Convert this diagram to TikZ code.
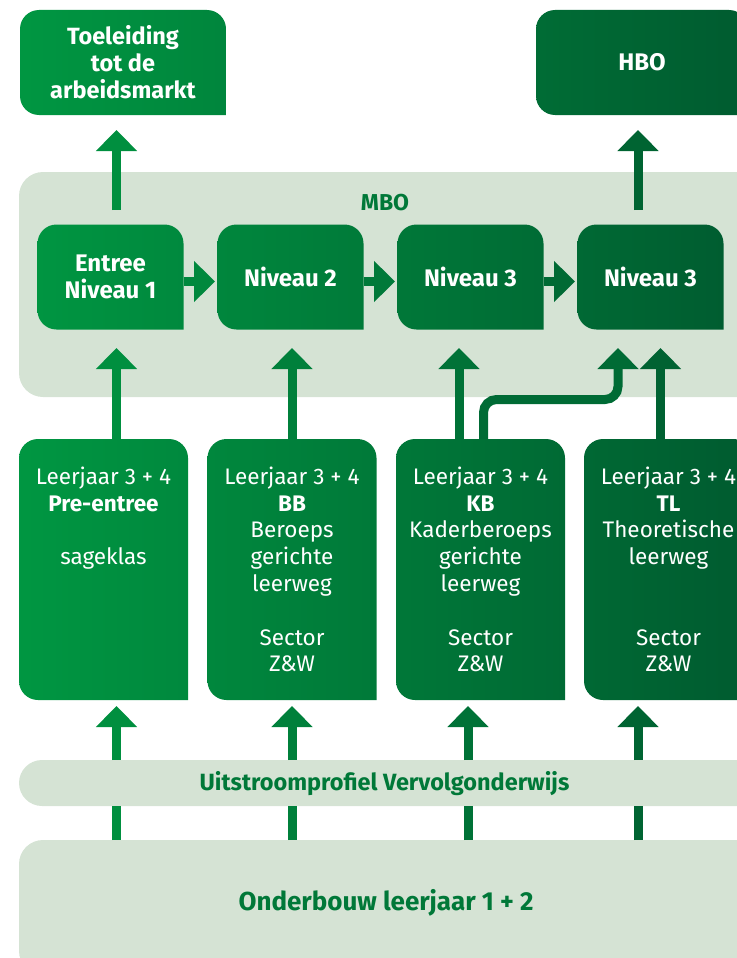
\documentclass[tikz,border=0pt]{standalone}
\usepackage{fontspec}
\setmainfont{Fira Sans}
\usetikzlibrary{positioning,calc,arrows.meta}
\pgfdeclarelayer{panels}
\pgfdeclarelayer{tabs}
\pgfsetlayers{panels,tabs,main}

\definecolor{gL}{RGB}{0,152,66}
\definecolor{gR}{RGB}{0,92,48}
\definecolor{panel}{RGB}{213,227,212}
\definecolor{ptext}{RGB}{0,120,56}

% green of the left-to-right fade at x (in pt)
\newcommand{\mixgreen}[2]{\pgfmathsetmacro\gp{100-(#2)/7.36}\colorlet{#1}{gL!\gp!gR}}
% tab shape: three round corners, bottom right square
\newcommand{\tabfill}[1]{%
  \path (#1.west); \pgfgetlastxy{\tx}{\ty}\mixgreen{tabL}{\tx}%
  \path (#1.east); \pgfgetlastxy{\tx}{\ty}\mixgreen{tabR}{\tx}%
  \shade[left color=tabL,right color=tabR] (#1.south east)
    -- ([xshift=19pt]#1.south west) arc[start angle=270,end angle=180,radius=19pt]
    -- ([yshift=-19pt]#1.north west) arc[start angle=180,end angle=90,radius=19pt]
    -- ([xshift=-19pt]#1.north east) arc[start angle=90,end angle=0,radius=19pt]
    -- cycle;}

\begin{document}
\begin{tikzpicture}[x=1pt,y=1pt,
    tab/.style={minimum width=146pt,minimum height=105pt,inner sep=0pt,outer sep=0pt,
      text=white,align=center,font=\bfseries\fontsize{23.5}{27}\selectfont},
    year box/.style={tab,minimum width=169pt,minimum height=261pt,
      font=\fontsize{22.5}{26.8}\selectfont},
    band/.style={fill=panel,rounded corners=24pt,inner sep=0pt,outer sep=0pt},
    band text/.style={text=ptext,font=\bfseries\fontsize{23.5}{27}\selectfont},
    varr/.style={line width=9pt,-{Triangle[width=40pt,length=21pt]}}
  ]
  \useasboundingbox (0,0) rectangle (736,-958);

  % light bands
  \begin{pgfonlayer}{panels}
    \node[band,minimum width=781pt,minimum height=225pt] (mbo) at (409.5,-284.5) {};
    \node[band,minimum width=781pt,minimum height=46pt,rounded corners=23pt] (uit) at (409.5,-783) {};
    \node[band,minimum width=781pt,minimum height=135pt] (onder) at (409.5,-907.5) {};
  \end{pgfonlayer}
  \node[band text,font=\bfseries\fontsize{23}{27}\selectfont] (mbotxt) at (385,-203) {MBO};
  \node[band text] (uittxt) at (384.5,-784) {Uitstroomprofiel Vervolgonderwijs};
  \node[band text,font=\bfseries\fontsize{26}{30}\selectfont] (ondertxt) at (386,-903) {Onderbouw leerjaar 1 + 2};

  % exits
  \node[tab,minimum width=206pt] (toe) at (123,-62.5) {Toeleiding\\tot de\\arbeidsmarkt};
  \node[tab,minimum width=212pt,font=\bfseries\fontsize{24}{27}\selectfont] (hbo) at (642,-62.5) {HBO};

  % mbo levels
  \node[tab,font=\bfseries\fontsize{24}{27}\selectfont] (niv1) at (110.5,-277) {Entree\\Niveau 1};
  \node[tab,font=\bfseries\fontsize{24}{27}\selectfont] (niv2) at (290.5,-277) {Niveau 2};
  \node[tab,font=\bfseries\fontsize{24}{27}\selectfont] (niv3) at (470.5,-277) {Niveau 3};
  \node[tab,font=\bfseries\fontsize{24}{27}\selectfont] (niv4) at (650.5,-277) {Niveau 3};

  % leerwegen
  \node[year box] (lj1) at (103.5,-569.5) {Leerjaar 3 + 4\\\textbf{Pre-entree}\\\mbox{}\\sageklas\\\mbox{}\\\mbox{}\\\mbox{}\\\mbox{}};
  \node[year box] (lj2) at (292,-569.5) {Leerjaar 3 + 4\\\textbf{BB}\\Beroeps\\gerichte\\leerweg\\\mbox{}\\Sector\\Z\&W};
  \node[year box] (lj3) at (480.5,-569.5) {Leerjaar 3 + 4\\\textbf{KB}\\Kaderberoeps\\gerichte\\leerweg\\\mbox{}\\Sector\\Z\&W};
  \node[year box] (lj4) at (668.5,-569.5) {Leerjaar 3 + 4\\\textbf{TL}\\Theoretische\\leerweg\\\mbox{}\\\mbox{}\\Sector\\Z\&W};

  \begin{pgfonlayer}{tabs}
    \foreach \n in {toe,hbo,niv1,niv2,niv3,niv4,lj1,lj2,lj3,lj4} {\tabfill{\n}}
  \end{pgfonlayer}

  % arrows
  \foreach \x/\n in {116.5/toe,638/hbo}{
    \mixgreen{ac}{\x}
    \coordinate (foot) at (\x,-210);
    \draw[varr,ac,shorten >=15pt] (foot) -- (\n.south -| foot);
  }
  \foreach \x/\a/\b in {116.5/lj1/niv1,292/lj2/niv2,459/lj3/niv3,660.5/lj4/niv4}{
    \mixgreen{ac}{\x}
    \coordinate (cx) at (\x,0);
    \draw[varr,ac,shorten >=18.5pt] (\a.north -| cx) -- (\b.south -| cx);
  }
  \mixgreen{ac}{550}
  \coordinate (kbx) at (483.5,0);
  \coordinate (bend) at (618,-399.5);
  \draw[varr,ac,rounded corners=13pt,shorten >=18.5pt] (lj3.north -| kbx) |- (bend) -- (bend |- niv4.south);
  \foreach \a/\b/\x in {niv1/niv2/200,niv2/niv3/380,niv3/niv4/560}{
    \mixgreen{ac}{\x}
    \draw[varr,ac,shorten >=2.5pt] ([yshift=-4.5pt]\a.east) -- ([yshift=-4.5pt]\b.west);
  }
  \foreach \x/\n in {116.5/lj1,292/lj2,468/lj3,638/lj4}{
    \mixgreen{ac}{\x}
    \coordinate (cx) at (\x,0);
    \draw[varr,ac,shorten >=6pt] (uit.north -| cx) -- (\n.south -| cx);
    \draw[ac,line width=9pt] (onder.north -| cx) -- (uit.south -| cx);
  }
\end{tikzpicture}
\end{document}
